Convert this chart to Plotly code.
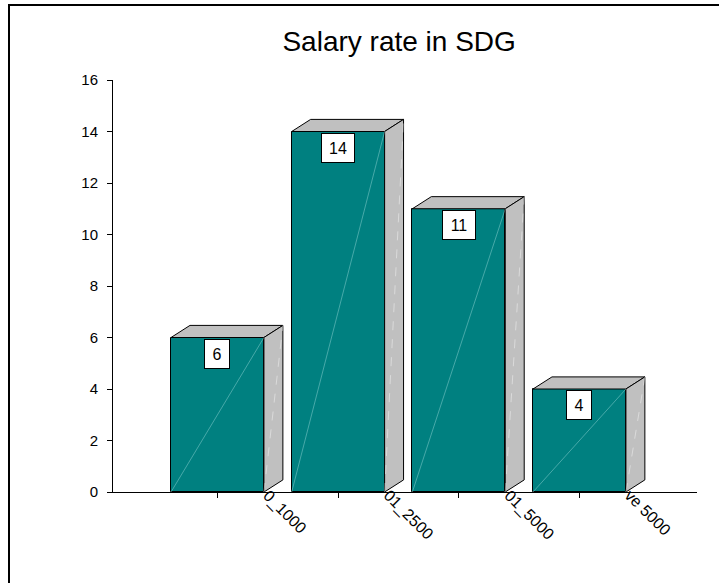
import plotly.graph_objects as go

# Salary bands (visible part of each rotated label) and respondent counts
categories = ["0_1000", "01_2500", "01_5000", "ve 5000"]
counts = [6, 14, 11, 4]
y_ticks = [0, 2, 4, 6, 8, 10, 12, 14, 16]

FONT = "Liberation Sans, Arial, sans-serif"
TEAL = "#008080"
GREY = "#C0C0C0"
BAR_W = 0.77      # front-face width, in category units
DEPTH_X = 0.157   # 3-D depth offset, category units
DEPTH_Y = 0.47    # 3-D depth offset, value units

xs = list(range(len(categories)))

fig = go.Figure()

# front faces
fig.add_trace(go.Bar(
    x=xs, y=counts, width=BAR_W,
    marker=dict(color=TEAL, line=dict(color="black", width=1)),
    hoverinfo="skip",
))

# top and side faces of each box, plus the faint diagonal highlights
for i, v in zip(xs, counts):
    left, right = i - BAR_W / 2, i + BAR_W / 2
    fig.add_trace(go.Scatter(
        x=[left, right, right + DEPTH_X, left + DEPTH_X, left],
        y=[v, v, v + DEPTH_Y, v + DEPTH_Y, v],
        fill="toself", fillcolor=GREY, mode="lines",
        line=dict(color="black", width=1), hoverinfo="skip",
    ))
    fig.add_trace(go.Scatter(
        x=[right, right + DEPTH_X, right + DEPTH_X, right, right],
        y=[0, DEPTH_Y, v + DEPTH_Y, v, 0],
        fill="toself", fillcolor=GREY, mode="lines",
        line=dict(color="black", width=1), hoverinfo="skip",
    ))
    fig.add_trace(go.Scatter(
        x=[left, right], y=[0, v], mode="lines",
        line=dict(color="rgba(170,225,225,0.6)", width=0.7), hoverinfo="skip",
    ))
    fig.add_trace(go.Scatter(
        x=[right, right + DEPTH_X], y=[0, v + DEPTH_Y], mode="lines",
        line=dict(color="rgba(255,255,255,0.6)", width=0.7, dash="dash"),
        hoverinfo="skip",
    ))

annotations = []
# value boxes under each bar top
for i, v in zip(xs, counts):
    s = str(v)
    annotations.append(dict(
        x=i, y=v, xref="x", yref="y", text=s, showarrow=False,
        xanchor="center", yanchor="top", yshift=-1,
        width=8 * len(s) + 8, height=20,
        font=dict(family=FONT, size=16, color="black"),
        bgcolor="white", bordercolor="black", borderwidth=1, borderpad=4,
    ))
# rotated category labels
for i, c in zip(xs, categories):
    annotations.append(dict(
        x=i, y=0, xref="x", yref="y", text=c, showarrow=False,
        textangle=45, xanchor="left", yanchor="top", xshift=39, yshift=8,
        font=dict(family=FONT, size=16, color="black"),
    ))

fig.update_layout(
    width=719, height=583,
    margin=dict(l=113, r=22, t=80, b=91),
    paper_bgcolor="white", plot_bgcolor="white",
    showlegend=False,
    bargap=0,
    font=dict(family=FONT, size=15, color="black"),
    title=dict(
        text="Salary rate in SDG", x=0.49, xref="paper", xanchor="center",
        y=1 - 41 / 583, yref="container", yanchor="middle",
        font=dict(family=FONT, size=28, color="black"),
    ),
    xaxis=dict(
        range=[-0.866, 3.974], tickvals=xs, showticklabels=False,
        ticks="outside", ticklen=5, tickcolor="black",
        showline=True, linecolor="black", linewidth=1,
        showgrid=False, zeroline=False, fixedrange=True,
    ),
    yaxis=dict(
        range=[0, 16], tickvals=y_ticks,
        ticks="outside", ticklen=5, tickcolor="black",
        ticklabelstandoff=6,
        showline=True, linecolor="black", linewidth=1,
        showgrid=False, zeroline=False, fixedrange=True,
        tickfont=dict(family=FONT, size=15, color="black"),
    ),
    annotations=annotations,
    shapes=[dict(
        type="rect", xref="paper", yref="paper",
        x0=(9 - 113) / 584, x1=(760 - 113) / 584,
        y0=(492 - 620) / 412, y1=(492 - 5) / 412,
        line=dict(color="black", width=2), fillcolor="rgba(0,0,0,0)",
        layer="below",
    )],
)

fig.write_html("out.html")
